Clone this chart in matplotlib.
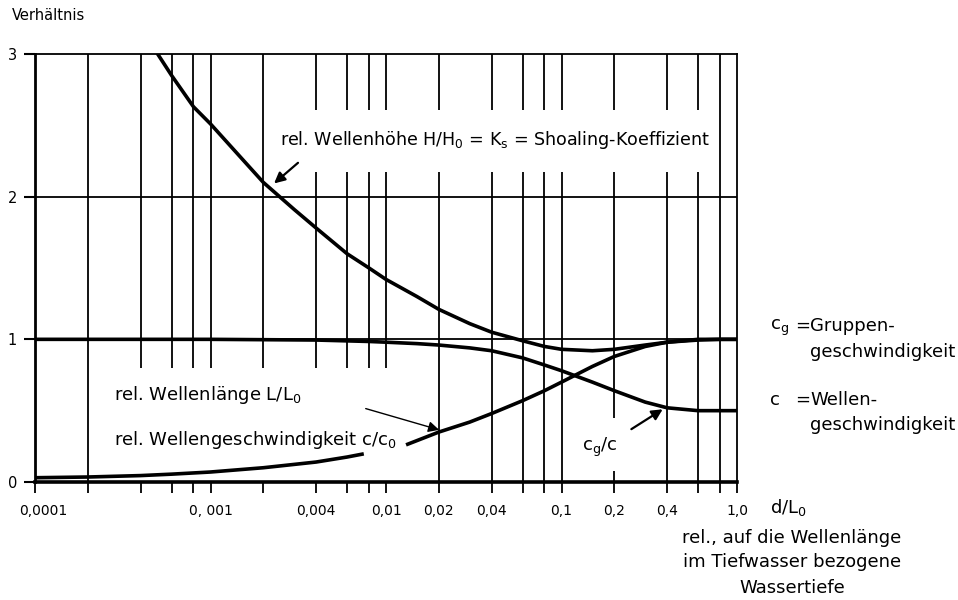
import numpy as np
import matplotlib
matplotlib.use("Agg")
import matplotlib.pyplot as plt
from matplotlib.ticker import FixedLocator, FixedFormatter, NullFormatter
from matplotlib.transforms import ScaledTranslation

plt.rcParams['font.family'] = ['DejaVu Sans']
plt.rcParams['mathtext.default'] = 'regular'

# d/L0 grid lines and labelled ticks
grid_x = [2e-4, 4e-4, 6e-4, 8e-4, 1e-3, 2e-3, 4e-3, 6e-3, 8e-3,
          1e-2, 2e-2, 4e-2, 6e-2, 8e-2, 0.1, 0.2, 0.4, 0.6, 0.8]
tick_x = [1e-4, 1e-3, 4e-3, 1e-2, 2e-2, 4e-2, 0.1, 0.2, 0.4, 1.0]
tick_lab = ['0,0001', '0, 001', '0,004', '0,01', '0,02', '0,04',
            '0,1', '0,2', '0,4', '1,0']

# shoaling coefficient H/H0 = Ks
d_ks = [0.00045, 0.0005, 0.0006, 0.0008, 0.001, 0.0015, 0.002, 0.003,
        0.004, 0.006, 0.008, 0.01, 0.015, 0.02, 0.03, 0.04, 0.06, 0.08,
        0.1, 0.15, 0.2, 0.3, 0.4, 0.6, 0.8, 1.0]
ks = [3.08, 3.0, 2.85, 2.63, 2.51, 2.27, 2.10, 1.91, 1.78, 1.60, 1.50,
      1.42, 1.30, 1.21, 1.11, 1.05, 0.99, 0.95, 0.93, 0.92, 0.93, 0.96,
      0.98, 0.995, 1.0, 1.0]

# cg/c
d_n = [0.0001, 0.001, 0.004, 0.008, 0.01, 0.015, 0.02, 0.03, 0.04, 0.06,
       0.08, 0.1, 0.15, 0.2, 0.3, 0.4, 0.6, 1.0]
n = [1.0, 1.0, 0.995, 0.985, 0.98, 0.97, 0.96, 0.94, 0.92, 0.87, 0.82,
     0.78, 0.70, 0.64, 0.56, 0.52, 0.50, 0.50]

# c/c0 = L/L0 (gap where the label sits)
d_c = [0.0001, 0.0002, 0.0004, 0.0006, 0.001, 0.002, 0.004, 0.006, 0.0073,
       0.0095, 0.0133, 0.02, 0.03, 0.04, 0.06, 0.08, 0.1, 0.15, 0.2, 0.3,
       0.4, 0.6, 1.0]
c = [0.03, 0.035, 0.045, 0.055, 0.07, 0.10, 0.14, 0.175, 0.195, np.nan,
     0.265, 0.35, 0.42, 0.48, 0.57, 0.64, 0.70, 0.81, 0.88, 0.95, 0.98,
     1.0, 1.0]

W, H = 958, 600
fig = plt.figure(figsize=(9.58, 6), dpi=100)
ax = fig.add_axes([35/W, 118/H, 702/W, 428/H])
ax.set_xscale('log')
ax.set_xlim(1e-4, 1.0)
ax.set_ylim(0, 3)

# vertical grid, with gaps around the labels
gap_up = (2.175, 2.608)
for x in grid_x:
    segs = []
    lo = 0.0
    if 3.5e-4 < x < 1.5e-2:
        lo = 0.80
    if 3e-3 < x < 0.7:
        segs += [(lo, gap_up[0]), (gap_up[1], 3)]
    else:
        segs += [(lo, 3)]
    if abs(x - 0.2) < 1e-9:
        segs = [(0, 0.08), (0.45, gap_up[0]), (gap_up[1], 3)]
    for a, b in segs:
        ax.vlines(x, a, b, color='black', lw=1.3)
for y in [1, 2]:
    ax.axhline(y, color='black', lw=1.3)

ax.plot(d_ks, ks, color='black', lw=2.6)
ax.plot(d_n, n, color='black', lw=2.6)
ax.plot(d_c, c, color='black', lw=2.6)

for s in ['top', 'right']:
    ax.spines[s].set_linewidth(1.3)
ax.spines['left'].set_linewidth(2.0)
ax.spines['bottom'].set_linewidth(2.6)

ax.xaxis.set_major_locator(FixedLocator(tick_x))
ax.xaxis.set_major_formatter(FixedFormatter(tick_lab))
ax.xaxis.set_minor_locator(FixedLocator([x for x in grid_x if x not in tick_x]))
ax.xaxis.set_minor_formatter(NullFormatter())
ax.tick_params(axis='x', which='both', direction='out', length=8, width=1.3,
               pad=8, labelsize=10)
ax.set_yticks([0, 1, 2, 3])
ax.set_yticklabels(['0', '1', '2', '3'])
ax.tick_params(axis='y', direction='out', length=8, width=1.5, pad=5,
               labelsize=10.5)
# first label sits a little right of its tick
first = ax.get_xticklabels()[0]
first.set_transform(first.get_transform() +
                    ScaledTranslation(6/72, 0, fig.dpi_scale_trans))

# labels with arrows
arw = dict(arrowstyle='-|>', color='black', lw=1.6, mutation_scale=16)
ax.annotate('', xy=(0.00224, 2.08), xytext=(0.00324, 2.25), arrowprops=arw)
ax.annotate('', xy=(0.0208, 0.36), xytext=(0.0074, 0.52),
            arrowprops=dict(arrowstyle='-|>', color='black', lw=1.0,
                            mutation_scale=16))
ax.annotate('', xy=(0.389, 0.52), xytext=(0.2425, 0.36), arrowprops=arw)


def ftext(x, y, s, **kw):
    fig.text(x / W, 1 - y / H, s, va='center', **kw)


ftext(12, 15, 'Verhältnis', fontsize=10.5)
ftext(280, 140, 'rel. Wellenhöhe H/H$_0$ = K$_s$ = Shoaling-Koeffizient',
      fontsize=12.6)
ftext(114, 395, 'rel. Wellenlänge L/L$_0$', fontsize=13)
ftext(114, 440, 'rel. Wellengeschwindigkeit c/c$_0$', fontsize=13)
ftext(582, 447, 'c$_g$/c', fontsize=13)

ftext(770, 328, 'c$_g$', fontsize=13)
ftext(795, 326, '=', fontsize=13)
ftext(810, 326, 'Gruppen-', fontsize=13)
ftext(810, 352, 'geschwindigkeit', fontsize=13)
ftext(770, 400, 'c', fontsize=13)
ftext(795, 400, '=', fontsize=13)
ftext(810, 400, 'Wellen-', fontsize=13)
ftext(810, 425, 'geschwindigkeit', fontsize=13)

ftext(770, 507, 'd/L$_0$', fontsize=13)
ftext(792, 538, 'rel., auf die Wellenlänge', fontsize=13, ha='center')
ftext(792, 562, 'im Tiefwasser bezogene', fontsize=13, ha='center')
ftext(792, 588, 'Wassertiefe', fontsize=13, ha='center')

fig.savefig('out.png', dpi=100)
